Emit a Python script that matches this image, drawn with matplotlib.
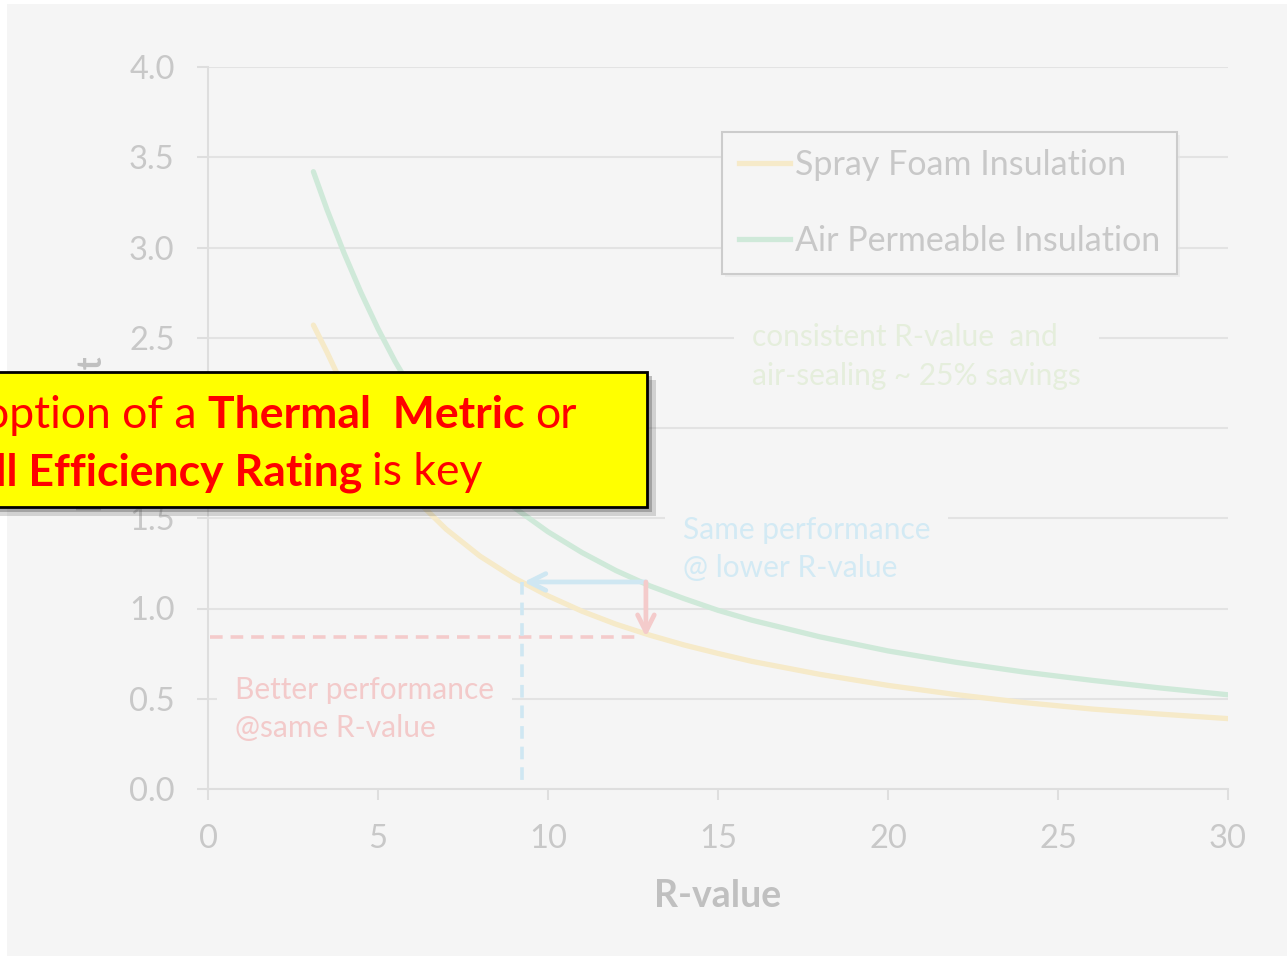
import matplotlib
matplotlib.use("Agg")
from matplotlib import pyplot as plt
from matplotlib.patches import Rectangle
from matplotlib.lines import Line2D

plt.rcParams['font.family'] = ['Lato', 'DejaVu Sans']

# data
r_value = [3.1, 3.5, 4, 4.5, 5, 5.5, 6, 7, 8, 9, 10, 11, 12, 13, 14, 15, 16, 18, 20, 22, 24, 26, 28, 30]
spray_foam = [2.57, 2.42, 2.22, 2.04, 1.88, 1.745, 1.625, 1.44, 1.29, 1.17, 1.07, 0.985, 0.913, 0.852, 0.798,
              0.751, 0.707, 0.635, 0.574, 0.523, 0.479, 0.443, 0.415, 0.39]
air_perm = [3.42, 3.21, 2.97, 2.75, 2.55, 2.37, 2.21, 1.94, 1.73, 1.56, 1.425, 1.31, 1.21, 1.125, 1.055,
            0.99, 0.935, 0.843, 0.765, 0.702, 0.648, 0.602, 0.56, 0.522]
series_names = ["Spray Foam Insulation", "Air Permeable Insulation"]
same_perf_r, start_r = 9.24, 12.88
start_u, better_u = 1.147, 0.843
xticks = [0, 5, 10, 15, 20, 25, 30]
yticks = [0.0, 0.5, 1.0, 1.5, 2.0, 2.5, 3.0, 3.5, 4.0]

W, H = 1287, 956
def fx(px): return px / W
def fy(py): return 1 - py / H

YEL = '#f6eac9'
GRN = '#cfe9d9'
BLU = '#cfe7f2'
PNK = '#f4cbcb'
TXT = '#c8c8c8'
BG = '#f5f5f5'

fig = plt.figure(figsize=(12.87, 9.56), dpi=100, facecolor='white')
fig.add_artist(Rectangle((fx(7), 0), 1, fy(4), transform=fig.transFigure,
                         facecolor=BG, edgecolor='none', zorder=-10))

ax = fig.add_axes([fx(208), fy(789), fx(1228) - fx(208), fy(67) - fy(789)])
ax.set_facecolor('none')
ax.set_xlim(0, 30)
ax.set_ylim(0, 4)
ax.set_xticks(xticks)
ax.set_yticks(yticks)
ax.set_yticklabels([f"{v:.1f}" for v in yticks])
ax.tick_params(axis='both', direction='out', length=8, width=1.5, color='#dedede',
               labelcolor=TXT, labelsize=23.5)
ax.tick_params(axis='y', pad=16)
ax.tick_params(axis='x', pad=17)
for s in ['top', 'right']:
    ax.spines[s].set_visible(False)
for s in ['left', 'bottom']:
    ax.spines[s].set_color('#dedede')
    ax.spines[s].set_linewidth(1.5)
ax.yaxis.grid(True, color='#e3e3e3', lw=1.5)
ax.set_axisbelow(True)
ax.set_xlabel("R-value", fontsize=27, fontweight='bold', color='#c0c0c0', labelpad=18)

ax.plot(r_value, spray_foam, color=YEL, lw=3.8, solid_capstyle='round', zorder=3)
ax.plot(r_value, air_perm, color=GRN, lw=3.8, solid_capstyle='round', zorder=3)

# guide lines and arrows
ax.plot([0.06, start_r - 0.15], [better_u, better_u], color=PNK, lw=2.6, ls=(0, (3.5, 2.2)), zorder=4)
ax.plot([same_perf_r, same_perf_r], [start_u, 0.01], color=BLU, lw=2.6, ls=(0, (3.5, 2.2)), zorder=4)
ax.annotate('', xy=(same_perf_r + 0.05, start_u), xytext=(start_r, start_u),
            arrowprops=dict(arrowstyle='->', lw=3.4, color=BLU, mutation_scale=30,
                            shrinkA=0, shrinkB=0), zorder=5)
ax.annotate('', xy=(start_r, better_u), xytext=(start_r, start_u),
            arrowprops=dict(arrowstyle='->', lw=3.4, color=PNK, mutation_scale=30,
                            shrinkA=0, shrinkB=0), zorder=5)

# annotation texts
box = dict(boxstyle='square,pad=0.6', facecolor=BG, edgecolor='none')
ax.text(0.79, 0.443, "Better performance\n@same R-value", color='#f3caca', fontsize=21.5,
        va='center', ha='left', linespacing=1.45, bbox=box, zorder=2)
ax.text(13.97, 1.33, "Same performance\n@ lower R-value", color='#d3eaf4', fontsize=21.5,
        va='center', ha='left', linespacing=1.45, bbox=box, zorder=2)
ax.text(16.0, 2.396, "consistent R-value  and\nair-sealing ~ 25% savings", color='#e5eedc',
        fontsize=21.5, va='center', ha='left', linespacing=1.45, bbox=box, zorder=2)

# legend
handles = [Line2D([], [], color=YEL, lw=3.8), Line2D([], [], color=GRN, lw=3.8)]
leg = ax.legend(handles, series_names, loc='upper left', bbox_to_anchor=(fx(722), fy(132)),
                bbox_transform=fig.transFigure, borderaxespad=0, fontsize=24.5, labelcolor=TXT,
                handlelength=1.5, handletextpad=0.15, labelspacing=1.3, borderpad=0.5,
                fancybox=False, edgecolor='#cccccc', facecolor=BG, framealpha=1,
                shadow={'facecolor': '#e4e4e4', 'edgecolor': 'none'})
leg.get_frame().set_linewidth(1.5)
leg.set_zorder(6)

# y label, mostly hidden behind the callout
fig.text(fx(92), fy(356), "Heat Cost", rotation=90, ha='center', va='top',
         fontsize=25, fontweight='bold', color='#c0c0c0', zorder=3)

# callout box
fig.add_artist(Rectangle((fx(-10), fy(516)), fx(666), fy(380) - fy(516), transform=fig.transFigure,
                         facecolor='#555555', alpha=0.22, edgecolor='none', zorder=9))
fig.add_artist(Rectangle((fx(-10), fy(512)), fx(662), fy(376) - fy(512), transform=fig.transFigure,
                         facecolor='#444444', alpha=0.32, edgecolor='none', zorder=9))
fig.add_artist(Rectangle((fx(-10), fy(507)), fx(657), fy(372) - fy(507), transform=fig.transFigure,
                         facecolor='#ffff00', edgecolor='black', lw=2, zorder=10))
red = '#ff0000'
fs = 32
fig.text(fx(197), fy(428), "Adoption of a", color=red, fontsize=fs, ha='right', va='baseline', zorder=11)
fig.text(fx(208), fy(428), "Thermal  Metric", color=red, fontsize=fs, fontweight='bold',
         ha='left', va='baseline', zorder=11)
fig.text(fx(577), fy(428), "or", color=red, fontsize=fs, ha='right', va='baseline', zorder=11)
fig.text(fx(362), fy(485), "Overall Efficiency Rating", color=red, fontsize=fs, fontweight='bold',
         ha='right', va='baseline', zorder=11)
fig.text(fx(372), fy(485), "is key", color=red, fontsize=fs, ha='left', va='baseline', zorder=11)

fig.savefig("out.png", dpi=100)
